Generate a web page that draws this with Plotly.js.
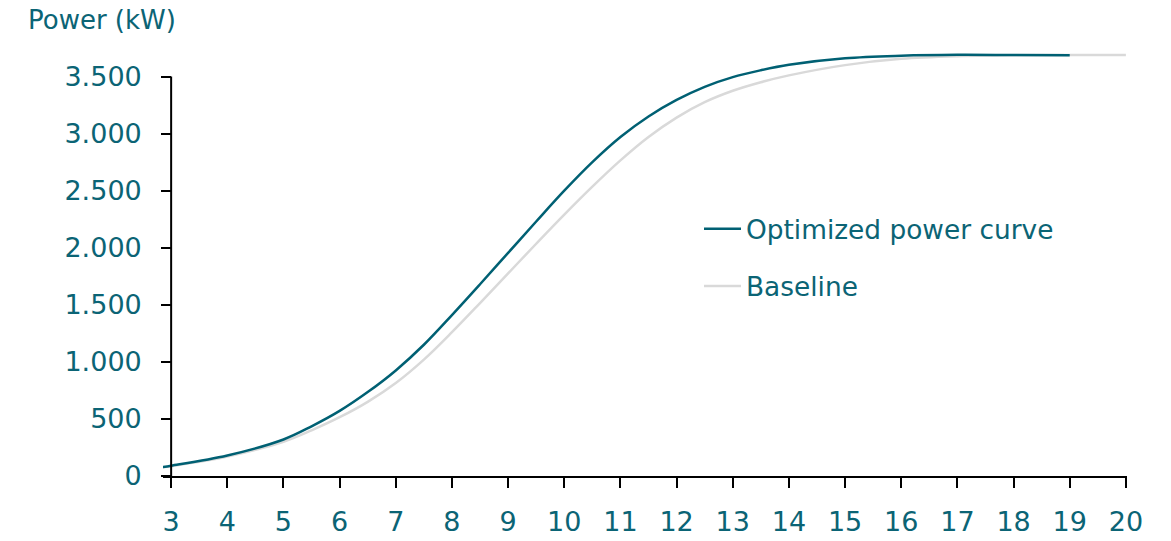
<!DOCTYPE html>
<html>
<head>
<meta charset="utf-8">
<script src="https://cdn.plot.ly/plotly-3.0.1.min.js"></script>
<style>html,body{margin:0;padding:0;background:#fff;}#chart{width:1171px;height:541px;}</style>
</head>
<body>
<div id="chart"></div>
<script>
// Wind speed (m/s) and power (kW)
var optimizedSpeed = [2.85, 3, 4, 5, 5.5, 6, 6.5, 7, 7.5, 8, 8.5, 9, 9.5, 10, 10.5, 11, 11.5, 12, 12.5, 13, 13.5, 14, 15, 16, 17, 18, 19];
var optimizedPower = [78, 90, 180, 320, 435, 570, 735, 925, 1150, 1410, 1680, 1955, 2230, 2500, 2750, 2970, 3150, 3295, 3410, 3495, 3555, 3603, 3660, 3682, 3690, 3688, 3686];
var baselineSpeed = [2.85, 3, 4, 5, 5.5, 6, 6.5, 7, 7.5, 8, 8.5, 9, 9.5, 10, 10.5, 11, 11.5, 12, 12.5, 13, 13.5, 14, 15, 16, 17, 18, 19, 20];
var baselinePower = [76, 86, 170, 300, 400, 515, 650, 815, 1020, 1260, 1515, 1775, 2035, 2290, 2535, 2765, 2970, 3140, 3275, 3375, 3450, 3510, 3600, 3655, 3678, 3686, 3688, 3688];
var xTicks = [3, 4, 5, 6, 7, 8, 9, 10, 11, 12, 13, 14, 15, 16, 17, 18, 19, 20];
var yTicks = [0, 500, 1000, 1500, 2000, 2500, 3000, 3500];
var yTickLabels = ['0', '500', '1.000', '1.500', '2.000', '2.500', '3.000', '3.500'];
var seriesNames = ['Optimized power curve', 'Baseline'];
var yTitle = 'Power (kW)';

var teal = '#006073';
var textTeal = '#0b6475';
var fontFam = 'DejaVu Sans, sans-serif';

var xRange = [2.855, 20.02];
var ml = 163, mr = 44, mt = 48, mb = 65, W = 1171, H = 541;
var plotW = W - ml - mr;
var plotH = H - mt - mb;
var yPos = (xTicks[0] - xRange[0]) / (xRange[1] - xRange[0]);

var traces = [
  {x: baselineSpeed, y: baselinePower, name: seriesNames[1], mode: 'lines',
   line: {color: '#d9d9d9', width: 2.5, shape: 'spline', smoothing: 1}, legendgroup: 'b', legendrank: 2},
  {x: optimizedSpeed, y: optimizedPower, name: seriesNames[0], mode: 'lines',
   line: {color: teal, width: 2.5, shape: 'spline', smoothing: 1}, legendgroup: 'a', legendrank: 1}
];

var layout = {
  width: W, height: H,
  margin: {l: ml, r: mr, t: mt, b: mb, pad: 0},
  paper_bgcolor: '#fff', plot_bgcolor: '#fff',
  font: {family: fontFam, color: textTeal, size: 26},
  showlegend: true,
  legend: {x: (699 - ml) / plotW, y: (H - mb - 205) / plotH, xanchor: 'left', yanchor: 'top',
           font: {family: fontFam, size: 26.4, color: textTeal}, itemwidth: 37, tracegroupgap: 20,
           bgcolor: 'rgba(0,0,0,0)', traceorder: 'grouped'},
  xaxis: {range: xRange, tickvals: xTicks, ticktext: xTicks.map(String), showgrid: false, zeroline: false,
          showline: true, linecolor: '#000', linewidth: 2, ticks: 'outside', ticklen: 10, tickwidth: 2,
          tickcolor: '#000', tickfont: {family: fontFam, size: 27, color: textTeal}, ticklabelstandoff: 11},
  yaxis: {range: [0, 3750], tickvals: yTicks, ticktext: yTickLabels, showgrid: false, zeroline: false,
          showline: false, anchor: 'free', position: yPos, ticks: 'outside', ticklen: 10, tickwidth: 2,
          tickcolor: '#000', tickfont: {family: fontFam, size: 27, color: textTeal}, ticklabelstandoff: 14},
  shapes: [{type: 'line', xref: 'x', yref: 'y', x0: xTicks[0], x1: xTicks[0], y0: 0, y1: yTicks[yTicks.length - 1],
            line: {color: '#000', width: 2}, layer: 'above'}],
  annotations: [{text: yTitle, xref: 'paper', yref: 'paper', x: (26 - ml) / plotW, y: (H - mb - 20) / plotH,
                 xanchor: 'left', yanchor: 'middle', showarrow: false,
                 font: {family: fontFam, size: 26, color: textTeal}}]
};

Plotly.newPlot('chart', traces, layout, {displayModeBar: false, staticPlot: true});
</script>
</body>
</html>
